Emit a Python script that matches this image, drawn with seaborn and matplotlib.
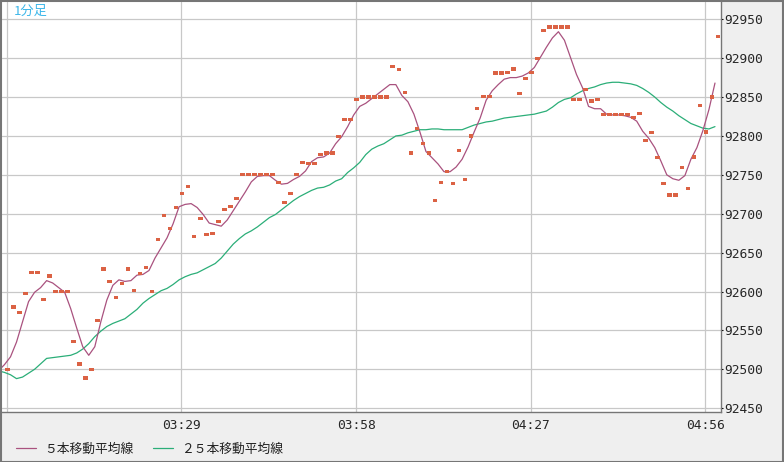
import numpy as np
import pandas as pd
import matplotlib
matplotlib.use('Agg')
import matplotlib.pyplot as plt
from matplotlib.lines import Line2D
from matplotlib.patches import Rectangle
import seaborn as sns

# 1-minute closes, 03:00 .. 04:58
closes = [92500, 92580, 92573, 92597, 92624, 92624, 92590, 92620, 92600, 92600,
          92600, 92536, 92507, 92489, 92500, 92563, 92629, 92613, 92592, 92610,
          92629, 92601, 92623, 92631, 92600, 92667, 92698, 92681, 92708, 92726,
          92735, 92671, 92694, 92673, 92675, 92690, 92705, 92709, 92720, 92750,
          92750, 92750, 92750, 92750, 92750, 92740, 92714, 92726, 92750, 92766,
          92765, 92765, 92776, 92778, 92778, 92799, 92821, 92821, 92847, 92850,
          92850, 92850, 92850, 92850, 92889, 92885, 92856, 92778, 92810, 92790,
          92778, 92717, 92740, 92754, 92739, 92781, 92744, 92800, 92835, 92851,
          92851, 92881, 92881, 92882, 92886, 92855, 92874, 92882, 92900, 92936,
          92940, 92940, 92940, 92940, 92847, 92847, 92860, 92845, 92847, 92828,
          92828, 92828, 92828, 92828, 92824, 92829, 92794, 92804, 92772, 92739,
          92724, 92724, 92759, 92732, 92773, 92839, 92805, 92850, 92928]

# moving averages, one value per bar starting one bar before the first close
ma5 = [92498, 92506, 92516, 92535, 92561, 92587, 92599, 92605, 92614, 92611,
       92605, 92599, 92578, 92553, 92529, 92518, 92529, 92561, 92589, 92608,
       92615, 92613, 92614, 92621, 92622, 92627, 92643, 92656, 92669, 92687,
       92709, 92712, 92713, 92708, 92699, 92688, 92686, 92684, 92692, 92704,
       92716, 92728, 92741, 92748, 92749, 92749, 92743, 92738, 92739, 92744,
       92748, 92755, 92767, 92772, 92773, 92778, 92790, 92799, 92812, 92827,
       92838, 92842, 92848, 92854, 92860, 92866, 92866, 92852, 92844, 92828,
       92805, 92780, 92772, 92764, 92754, 92754, 92760, 92770, 92786, 92805,
       92823, 92846, 92858, 92866, 92873, 92875, 92875, 92877, 92881, 92888,
       92901, 92914, 92926, 92934, 92923, 92901, 92879, 92862, 92838, 92835,
       92835, 92828, 92827, 92827, 92826, 92824, 92819, 92806, 92797, 92785,
       92768, 92750, 92745, 92743, 92749, 92770, 92785, 92807, 92834, 92868]

ma25 = [92498, 92496, 92493, 92488, 92490, 92495, 92500, 92507, 92514, 92515,
        92516, 92517, 92518, 92521, 92526, 92533, 92542, 92549, 92555, 92559,
        92562, 92565, 92571, 92577, 92585, 92591, 92596, 92601, 92604, 92609,
        92615, 92619, 92622, 92624, 92628, 92632, 92636, 92643, 92652, 92661,
        92668, 92674, 92678, 92683, 92689, 92695, 92699, 92705, 92711, 92717,
        92722, 92726, 92730, 92733, 92734, 92737, 92742, 92745, 92753, 92759,
        92766, 92776, 92783, 92787, 92790, 92795, 92800, 92801, 92804, 92806,
        92808, 92808, 92809, 92809, 92808, 92808, 92808, 92808, 92811, 92814,
        92816, 92818, 92819, 92821, 92823, 92824, 92825, 92826, 92827, 92828,
        92830, 92832, 92837, 92843, 92847, 92849, 92854, 92858, 92861, 92863,
        92866, 92868, 92869, 92869, 92868, 92867, 92865, 92861, 92856, 92850,
        92843, 92837, 92832, 92826, 92821, 92816, 92813, 92810, 92809, 92812]

times = list(pd.date_range('2024-01-01 03:00', periods=len(closes),
                           freq='min').strftime('%H:%M'))
grid_times = ['03:00', '03:29', '03:58', '04:27', '04:56']
y_ticks = [92450, 92500, 92550, 92600, 92650, 92700, 92750, 92800, 92850,
           92900, 92950]
legend_labels = ['５本移動平均線', '２５本移動平均線']

C_MA5 = '#a9527f'
C_MA25 = '#2bae78'
C_BAR = '#db6244'
C_GRID = '#c8c8c8'
C_FRAME = '#767676'
C_PANEL = '#efefef'

W, H = 784, 462


def main():
    sns.set_style('white')
    plt.rcParams['font.family'] = ['Noto Sans CJK JP', 'DejaVu Sans']

    close_df = pd.DataFrame({'bar': np.arange(len(closes)), 'close': closes})
    # the averages are drawn half a bar to the left of the closes
    ma_df = pd.DataFrame({'bar': np.arange(-1, len(closes)) - 0.5,
                          'ma5': ma5, 'ma25': ma25})

    fig = plt.figure(figsize=(W / 100, H / 100), dpi=100, facecolor=C_PANEL)
    ax = fig.add_axes([2 / W, (H - 412) / H, 719 / W, 410 / H])
    ax.set_facecolor('white')

    sns.lineplot(data=ma_df, x='bar', y='ma25', color=C_MA25, lw=0.9,
                 estimator=None, ax=ax)
    sns.lineplot(data=ma_df, x='bar', y='ma5', color=C_MA5, lw=0.9,
                 estimator=None, ax=ax)
    # small flat dashes for the closes
    box = [(-1, -0.7), (1, -0.7), (1, 0.7), (-1, 0.7), (-1, -0.7)]
    sns.scatterplot(data=close_df, x='bar', y='close', marker=box, s=11.5,
                    color=C_BAR, edgecolor='none', linewidth=0, ax=ax,
                    zorder=3)

    ax.set_xlim(-0.91, 118.5)
    ax.set_ylim(92445.1, 92972.2)

    ax.set_xticks([times.index(t) - 0.1 for t in grid_times])
    ax.set_xticklabels([''] + grid_times[1:], family='DejaVu Sans Mono',
                       fontsize=9.3)
    ax.set_yticks(y_ticks)
    ax.set_yticklabels([str(v) for v in y_ticks], family='DejaVu Sans Mono',
                       fontsize=9.3)
    ax.yaxis.tick_right()
    ax.tick_params(axis='y', length=1.5, width=0.8, color='black', pad=1)
    ax.tick_params(axis='x', length=0, pad=5)
    ax.grid(True, color=C_GRID, lw=0.9)
    ax.set_axisbelow(True)
    ax.set_xlabel('')
    ax.set_ylabel('')

    for side in ['left', 'top']:
        ax.spines[side].set_visible(False)
    for side in ['right', 'bottom']:
        ax.spines[side].set_color(C_FRAME)
        ax.spines[side].set_linewidth(1)

    fig.text(14 / W, 1 - 15 / H, '1分足', ha='left', va='baseline',
             fontsize=9.5, color='#3db7ea')

    # legend in the bottom panel
    y_leg = 1 - 448 / H
    for (x0, x1, tx), col, lab in zip([(16, 36, 44), (153, 173, 181)],
                                      [C_MA5, C_MA25], legend_labels):
        fig.add_artist(Line2D([x0 / W, x1 / W], [y_leg, y_leg], color=col,
                              lw=0.9, transform=fig.transFigure))
        fig.text(tx / W, y_leg, lab, ha='left', va='center_baseline',
                 fontsize=9.2, color='#222222')

    fig.add_artist(Rectangle((0.5 / W, 0.5 / H), 1 - 1.5 / W, 1 - 1.5 / H,
                             transform=fig.transFigure, fill=False,
                             edgecolor=C_FRAME, lw=1.5))

    fig.savefig('out.png', dpi=100, facecolor=C_PANEL)


if __name__ == '__main__':
    main()
